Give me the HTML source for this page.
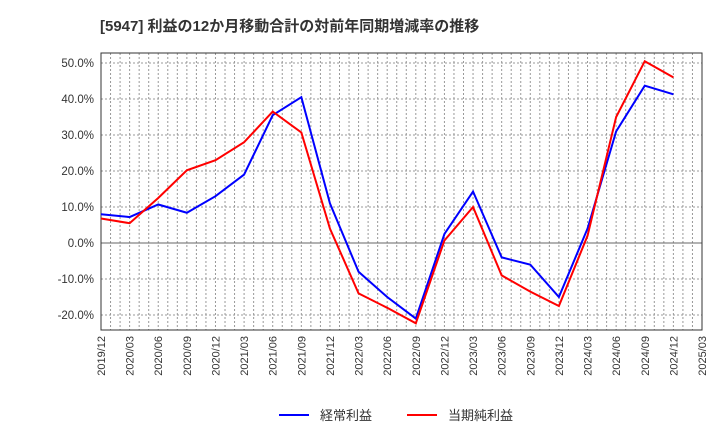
<!DOCTYPE html>
<html><head><meta charset="utf-8"><style>
body{margin:0;background:#fff;font-family:"Liberation Sans","Noto Sans CJK JP",sans-serif}
</style></head><body>
<svg id="c" width="720" height="440" xmlns="http://www.w3.org/2000/svg">
<text x="100" y="31" font-size="15" font-weight="bold" fill="#333">[5947]  利益の12か月移動合計の対前年同期増減率の推移</text>
<g id="grid"></g><g id="axes"></g><g id="series"></g>
<g>
<line x1="279" y1="415" x2="309" y2="415" stroke="#0000ff" stroke-width="2"/>
<text x="320" y="420" font-size="13" fill="#333">経常利益</text>
<line x1="407" y1="415" x2="437" y2="415" stroke="#ff0000" stroke-width="2"/>
<text x="448" y="420" font-size="13" fill="#333">当期純利益</text>
</g>
</svg>
<script>
const categories=["2019/12","2020/03","2020/06","2020/09","2020/12","2021/03","2021/06","2021/09","2021/12","2022/03","2022/06","2022/09","2022/12","2023/03","2023/06","2023/09","2023/12","2024/03","2024/06","2024/09","2024/12","2025/03"];
const ordinaryProfit=[8.0,7.2,10.7,8.4,13,19,35.5,40.5,11,-8,-15,-21,2.5,14.3,-4,-6,-15,4,31,43.7,41.3];
const netProfit=[6.8,5.5,12.5,20.2,23,28,36.5,30.7,4,-14,-18,-22.3,0.7,10,-9,-13.5,-17.5,2,35,50.5,46];
const yTicks=[50,40,30,20,10,0,-10,-20];
const X0=101,X1=702,Y0=53,Y1=330,zeroY=243,perTen=36;
const ns="http://www.w3.org/2000/svg";
const xs=i=>X0+(X1-X0)*i/(categories.length-1);
const ys=v=>zeroY-v*perTen/10;
function mk(t,a,p){const e=document.createElementNS(ns,t);for(const k in a)e.setAttribute(k,a[k]);p.appendChild(e);return e;}
const g=document.getElementById('grid'),ax=document.getElementById('axes'),s=document.getElementById('series');
for(let m=1;m<(categories.length-1)*3;m++){const x=X0+(X1-X0)*m/((categories.length-1)*3);
const l=mk('line',{x1:x,x2:x,y1:Y0,y2:Y1,stroke:'#999','stroke-dasharray':'2,2'},g);

}
yTicks.forEach(v=>{const y=ys(v);
const l=mk('line',{x1:X0,x2:X1,y1:y,y2:y,stroke:v===0?'#666':'#999','stroke-dasharray':v===0?'':'2,2'},g);


const t=mk('text',{x:X0-7,y:y+4,'font-size':11.5,'text-anchor':'end',fill:'#333'},ax);t.textContent=v.toFixed(1)+'%';

});
const b=mk('rect',{x:X0,y:Y0,width:X1-X0,height:Y1-Y0,fill:'none',stroke:'#333'},ax);


categories.forEach((c,i)=>{const x=xs(i);
const t=mk('text',{x:x+4,y:Y1+6,'font-size':11,'text-anchor':'end',fill:'#333',transform:`rotate(-90 ${x+4} ${Y1+6})`},ax);t.textContent=c;

});
function line(d,col,name){const p=mk('polyline',{points:d.map((v,i)=>xs(i)+','+ys(v)).join(' '),fill:'none',stroke:col,'stroke-width':2},s);

}
line(ordinaryProfit,'#0000ff','ordinary-profit-line');
line(netProfit,'#ff0000','net-profit-line');
</script>
</body></html>
